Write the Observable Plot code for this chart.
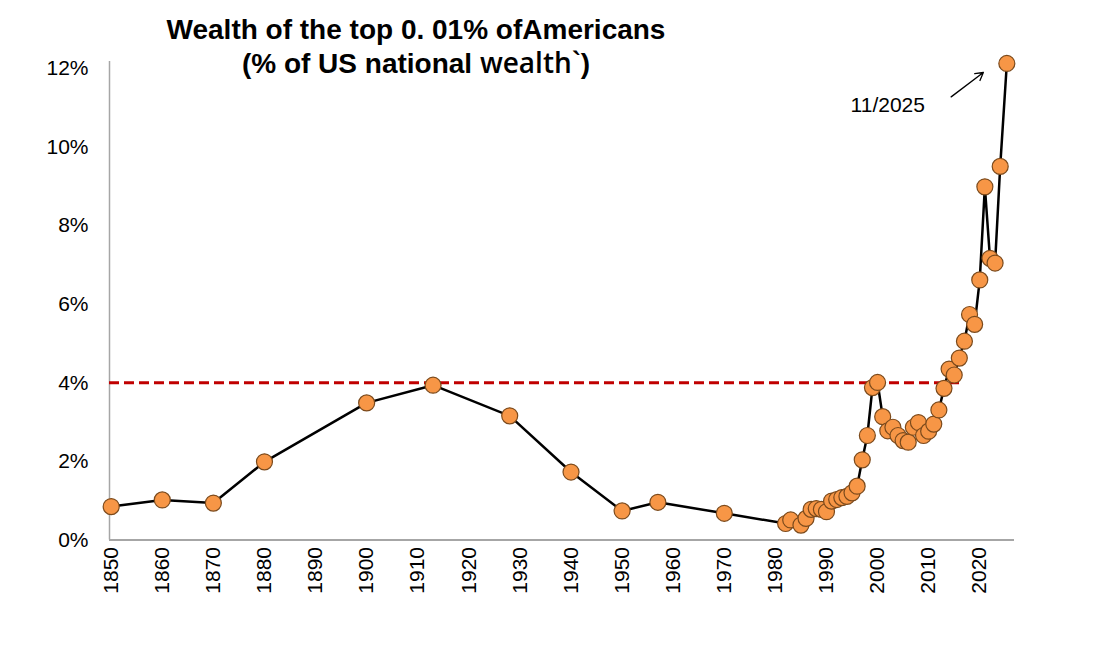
<!DOCTYPE html>
<html>
<head>
<meta charset="utf-8">
<script src="https://cdn.jsdelivr.net/npm/d3@7"></script>
<script src="https://cdn.jsdelivr.net/npm/@observablehq/plot@0.6"></script>
<style>
  html, body { margin: 0; padding: 0; background: #fff; }
  #wrap { position: relative; width: 1094px; height: 659px; }
  #title {
    position: absolute; left: 0px; width: 832px; top: 14px;
    text-align: center; font-family: "Liberation Sans", Arial, sans-serif;
    font-weight: bold; font-size: 28px; line-height: 32px; color: #000;
    white-space: nowrap;
  }
  #title .w { font-family: "Open Sans", "Liberation Sans", sans-serif; font-weight: 600; }
</style>
</head>
<body>
<div id="wrap">
  <div id="chart"></div>
  <div id="title">Wealth of the top 0. 01% ofAmericans<br>(% of US national <span class="w">wealth`</span>)</div>
</div>
<script>
// Data
const years = [1850, 1860, 1870, 1880, 1900, 1913, 1928, 1940, 1950, 1957, 1970,
  1982, 1983, 1985, 1986, 1987, 1988, 1989, 1990, 1991, 1992, 1993, 1994, 1995, 1996, 1997, 1998,
  1999, 2000, 2001, 2002, 2003, 2004, 2005, 2006, 2007, 2008, 2009, 2010, 2011, 2012, 2013, 2014,
  2015, 2016, 2017, 2018, 2019, 2020, 2021, 2022, 2023, 2024, 2025.3];
const shares = [0.85, 1.02, 0.94, 1.99, 3.49, 3.94, 3.16, 1.73, 0.74, 0.96, 0.68,
  0.42, 0.51, 0.38, 0.55, 0.78, 0.80, 0.78, 0.72, 0.99, 1.03, 1.08, 1.11, 1.20, 1.37, 2.04, 2.66,
  3.88, 4.01, 3.14, 2.78, 2.87, 2.66, 2.53, 2.49, 2.87, 2.99, 2.66, 2.77, 2.95, 3.31, 3.86, 4.35,
  4.20, 4.63, 5.06, 5.74, 5.49, 6.62, 8.99, 7.17, 7.05, 9.51, 12.13];

const xTicks = [1850, 1860, 1870, 1880, 1890, 1900, 1910, 1920, 1930, 1940, 1950, 1960, 1970, 1980, 1990, 2000, 2010, 2020];
const yTicks = [0, 2, 4, 6, 8, 10, 12];

const xDomain = [1849.67, 2026.8];
const yDomain = [0, 12.18];

// Reference line (4%) ending near 2016
const refValue = [4];
const refEnd = 2016.3;

// Annotation
const noteLabel = ["11/2025"];
const noteX = [2002.0];
const noteY = [11.07];
const arrowFrom = {x: 2014.4, y: 11.28};
const arrowTo = {x: 2020.7, y: 11.9};

const data = years.map((y, i) => ({year: y, share: shares[i]}));
const font = "'Liberation Sans', Arial, sans-serif";

const chart = Plot.plot({
  width: 1094,
  height: 659,
  marginLeft: 109,
  marginRight: 80,
  marginTop: 61,
  marginBottom: 119.5,
  style: {fontFamily: font, background: "#fff", color: "#000", overflow: "visible"},
  x: {domain: xDomain},
  y: {domain: yDomain},
  marks: [
    Plot.axisX({ticks: xTicks, tickFormat: d => String(d), tickRotate: -90, tickSize: 0, tickPadding: 7, fontSize: 21, label: null, fill: "#000"}),
    Plot.axisY({ticks: yTicks, tickFormat: d => d + "%", tickSize: 0, tickPadding: 21, fontSize: 21, label: null, fill: "#000"}),
    Plot.ruleY([0], {stroke: "#a6a6a6", strokeWidth: 1.8}),
    Plot.ruleX([xDomain[0]], {y1: yDomain[0], y2: yDomain[1], stroke: "#a6a6a6", strokeWidth: 1.5}),
    Plot.ruleY(refValue, {x1: xDomain[0], x2: refEnd, stroke: "#c00000", strokeWidth: 3, strokeDasharray: "10,5"}),
    Plot.line(data, {x: "year", y: "share", stroke: "#000", strokeWidth: 2.5}),
    Plot.dot(data, {x: "year", y: "share", r: 8, fill: "#f79646", stroke: "#7b4a1c", strokeWidth: 1.2}),
    Plot.text(noteLabel, {x: noteX, y: noteY, text: d => d, fontSize: 21, fill: "#000", textAnchor: "middle"}),
    Plot.arrow([0], {x1: arrowFrom.x, y1: arrowFrom.y, x2: arrowTo.x, y2: arrowTo.y, bend: 0, stroke: "#000", strokeWidth: 1.3, headLength: 10})
  ]
});
document.getElementById("chart").appendChild(chart);
</script>
</body>
</html>
